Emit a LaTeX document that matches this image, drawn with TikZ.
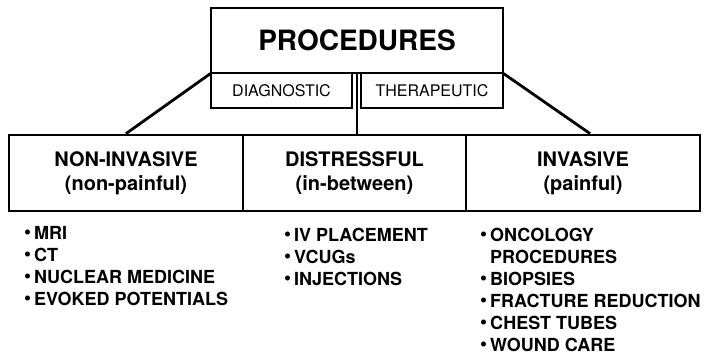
\documentclass[tikz,border=0pt]{standalone}
\usepackage{fontspec}
\setmainfont{TeX Gyre Heros}
\usepackage{tikz}
\usepackage{xcolor}
\newcommand{\itm}{\raisebox{0.6pt}{\fontsize{20}{20}\selectfont\textbullet}\hspace{3pt}}

\begin{document}
\begin{tikzpicture}[x=1pt,y=-1pt,
  topbox/.style={draw, line width=1.2pt, inner sep=0pt},
  subbox/.style={draw, line width=1.2pt, inner sep=0pt, minimum height=35pt,
    font=\fontsize{16}{19}\selectfont},
  catbox/.style={draw, line width=2.8pt, inner sep=0pt, minimum height=76pt,
    align=center, font=\fontsize{20}{24}\selectfont\bfseries},
  itemlist/.style={anchor=north west, inner sep=0pt, align=left,
    font=\fontsize{18}{22}\selectfont\bfseries},
  link/.style={line width=2.8pt}]
\useasboundingbox (0,0) rectangle (711,356);

\node [topbox, minimum width=292pt, minimum height=65pt,
       font=\fontsize{28}{32}\selectfont\bfseries]
       (proc) at (357,40.5) {PROCEDURES};
\node [subbox, minimum width=141pt]
       (diag) at (281.5,90.5) {DIAGNOSTIC};
\node [subbox, minimum width=142pt]
       (ther) at (432,90.5) {THERAPEUTIC};

\node [catbox, minimum width=234pt]
       (noninv) at (126,173) {NON-INVASIVE\\(non-painful)};
\node [catbox, minimum width=223pt]
       (distr) at (354.5,173) {DISTRESSFUL\\(in-between)};
\node [catbox, minimum width=234pt]
       (inv) at (583,173) {INVASIVE\\(painful)};

\draw [link] (proc.south west) -- (noninv.north);
\draw [link] (proc.south east) -- ([xshift=7pt]inv.north);
\draw [link] (proc.south) -- (proc.south |- distr.north);

\node [itemlist]
       (noninvlist) at (24,226) {\itm MRI\\\itm CT\\\itm NUCLEAR MEDICINE\\\itm EVOKED POTENTIALS};
\node [itemlist]
       (distrlist) at (284,228) {\itm IV PLACEMENT\\\itm VCUGs\\\itm INJECTIONS};
\node [itemlist]
       (invlist) at (480,228) {\itm ONCOLOGY\\\phantom{\itm}PROCEDURES\\\itm BIOPSIES\\\itm FRACTURE REDUCTION\\\itm CHEST TUBES\\\itm WOUND CARE};
\end{tikzpicture}
\end{document}
